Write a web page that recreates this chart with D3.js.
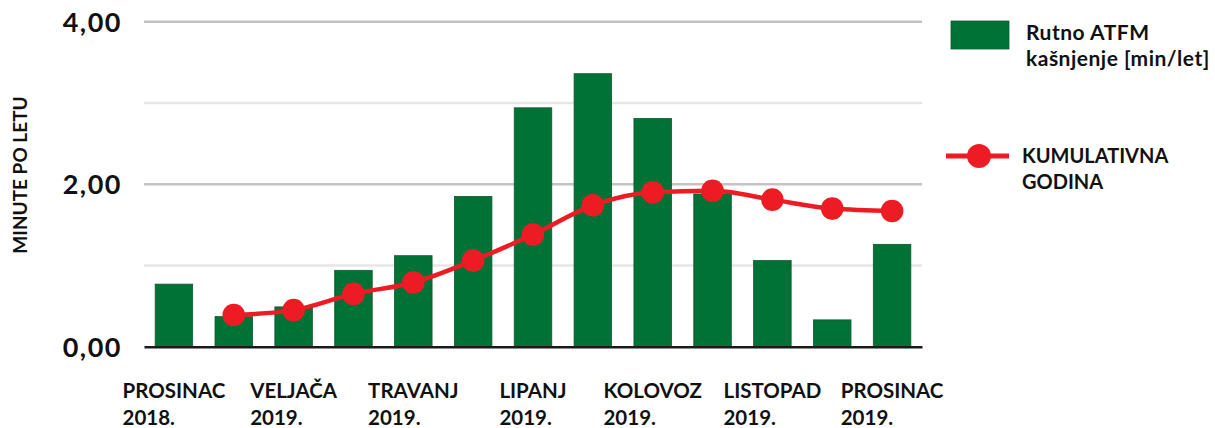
<!DOCTYPE html>
<html><head><meta charset="utf-8">
<script src="https://cdn.jsdelivr.net/npm/d3@7/dist/d3.min.js"></script>
<style>
body{margin:0;background:#fff}
svg text{font-family:Lato, "Open Sans", sans-serif;font-weight:bold;fill:#111}
</style>
</head><body>
<svg id="chart" width="1215" height="428"></svg>
<script>
// ---- data ----
const categories = ["PROSINAC 2018.","SIJEČANJ 2019.","VELJAČA 2019.","OŽUJAK 2019.","TRAVANJ 2019.","SVIBANJ 2019.","LIPANJ 2019.","SRPANJ 2019.","KOLOVOZ 2019.","RUJAN 2019.","LISTOPAD 2019.","STUDENI 2019.","PROSINAC 2019."];
const monthlyDelay = [0.77, 0.37, 0.49, 0.94, 1.12, 1.85, 2.94, 3.36, 2.81, 1.88, 1.06, 0.33, 1.26];
const cumulativeYear = [null, 0.39, 0.45, 0.65, 0.79, 1.06, 1.38, 1.74, 1.90, 1.92, 1.81, 1.70, 1.67];
const shownTicks = ["PROSINAC 2018.","VELJAČA 2019.","TRAVANJ 2019.","LIPANJ 2019.","KOLOVOZ 2019.","LISTOPAD 2019.","PROSINAC 2019."];
const yTicks = [0, 2, 4];
const gridValues = [1, 2, 3, 4];
const majorGrid = [2, 4];
const barLabel = ["Rutno ATFM", "kašnjenje [min/let]"];
const lineLabel = ["KUMULATIVNA", "GODINA"];
const yTitle = "MINUTE PO LETU";

// ---- layout ----
const GREEN = "#007236", RED = "#ED1C24";
const svg = d3.select("#chart");
const x = d3.scaleBand().domain(categories).range([144, 922]).paddingInner(0.373).paddingOuter(0.1865);
const y = d3.scaleLinear().domain([0, 4]).range([346.7, 21.7]);

// gridlines
svg.append("g").selectAll("line").data(gridValues).join("line")
  .attr("x1", 144).attr("x2", 922)
  .attr("y1", d => y(d)).attr("y2", d => y(d))
  .attr("stroke", d => majorGrid.includes(d) ? "#c3c3c3" : "#e6e6e6")
  .attr("stroke-width", 2.5);

// bars
svg.append("g").selectAll("rect").data(monthlyDelay).join("rect")
  .attr("x", (d, i) => x(categories[i]))
  .attr("width", x.bandwidth())
  .attr("y", d => y(d))
  .attr("height", d => y(0) - y(d))
  .attr("fill", GREEN).attr("stroke", "#0d5a2e").attr("stroke-width", 0.8);

// x axis baseline
const xAxis = svg.append("g").attr("transform", `translate(0,${y(0)})`)
  .call(d3.axisBottom(x).tickValues(shownTicks).tickSize(0).tickFormat(""));
xAxis.select(".domain").attr("stroke", "#1a1a1a").attr("stroke-width", 2.5);
xAxis.selectAll(".tick").each(function(d) {
  const g = d3.select(this);
  const parts = d.split(" ");
  const t = g.append("text").attr("text-anchor", "start").style("font-size", "20.5px");
  parts.forEach((p, k) => t.append("tspan").attr("x", 0).attr("y", 51 + k * 27).text(p));
  const w = t.select("tspan").node().getComputedTextLength();
  t.selectAll("tspan").attr("x", -w / 2);
});

// y axis
const yAxis = svg.append("g").attr("transform", "translate(122,0)")
  .call(d3.axisLeft(y).tickValues(yTicks).tickSize(0).tickPadding(0)
    .tickFormat(d => d3.format(".2f")(d).replace(".", ",")));
yAxis.select(".domain").remove();
yAxis.selectAll("text").style("font-size", "27px").style("letter-spacing", "1.5px")
  .attr("dy", "0.36em").attr("fill", "#111");

// y title
svg.append("text").attr("transform", "translate(27,175) rotate(-90)")
  .attr("text-anchor", "middle").style("font-size", "19px").text(yTitle);

// cumulative line
const pts = cumulativeYear.map((v, i) => ({c: categories[i], v})).filter(p => p.v !== null);
const line = d3.line().x(p => x(p.c) + x.bandwidth() / 2).y(p => y(p.v)).curve(d3.curveMonotoneX);
svg.append("path").datum(pts).attr("d", line).attr("fill", "none")
  .attr("stroke", RED).attr("stroke-width", 4.5);
svg.append("g").selectAll("circle").data(pts).join("circle")
  .attr("cx", p => x(p.c) + x.bandwidth() / 2).attr("cy", p => y(p.v)).attr("r", 11.3)
  .attr("fill", RED);

// legend
const lg = svg.append("g");
lg.append("rect").attr("x", 951).attr("y", 21).attr("width", 58).attr("height", 28)
  .attr("fill", GREEN).attr("stroke", "#0d5a2e").attr("stroke-width", 0.8);
const t1 = lg.append("text").style("font-size", "21px").style("letter-spacing", "0.5px");
barLabel.forEach((s, k) => t1.append("tspan").attr("x", 1026).attr("y", 40 + k * 26).text(s));
lg.append("line").attr("x1", 946).attr("x2", 1009).attr("y1", 156).attr("y2", 156)
  .attr("stroke", RED).attr("stroke-width", 5);
lg.append("circle").attr("cx", 979).attr("cy", 156).attr("r", 12).attr("fill", RED);
const t2 = lg.append("text").style("font-size", "20px");
lineLabel.forEach((s, k) => t2.append("tspan").attr("x", 1022).attr("y", 163 + k * 26).text(s));
</script>
</body></html>
